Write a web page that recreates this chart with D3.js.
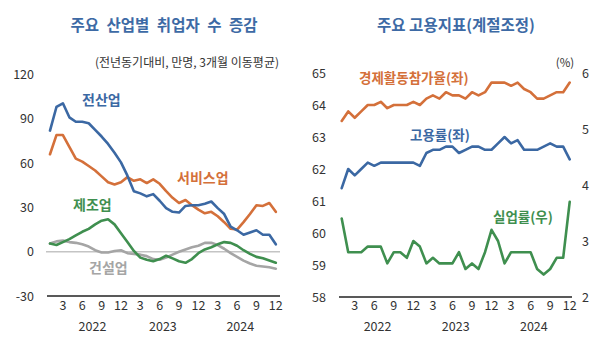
<!DOCTYPE html>
<html>
<head>
<meta charset="utf-8">
<script src="https://cdn.jsdelivr.net/npm/d3@7"></script>
<style>
  body { margin: 0; background: #fff; }
  svg { display: block; font-family: "Noto Sans CJK KR", "Noto Sans", sans-serif; }
  .tick-label { font-size: 12.5px; fill: #333; }
  .series { fill: none; stroke-width: 2.6px; stroke-linejoin: round; stroke-linecap: round; }
</style>
</head>
<body>
<svg width="600" height="337"></svg>
<script>

// months Jan 2022 .. Dec 2024 (index 0..35)
var years = ["2022", "2023", "2024"];
var monthTicks = ["3", "6", "9", "12"];

// left panel: yoy change in employed persons by industry (10k persons, 3m moving avg)
var allIndustries = [82, 98, 100.5, 91, 88, 88, 87, 82.5, 78, 73, 67, 60.5,
                     51.5, 41, 39.5, 37.5, 39, 34.5, 29.5, 27, 26.5, 31, 31.5, 31.5,
                     32.5, 34, 29.5, 25.5, 17, 14.5, 11.5, 13, 14.5, 11.5, 11.5, 5];
var services = [66, 79, 79, 71, 63, 61, 58, 55, 51, 47, 45.5, 47,
                50.5, 48, 49, 46.5, 49, 46, 41, 36.5, 33, 35, 31.5, 28.5,
                26, 27, 24, 20, 15.5, 15, 20, 25.5, 31.5, 31, 33, 27];
var manufacturing = [5.5, 4.5, 6.5, 8.5, 11, 13.5, 15.5, 18.5, 21, 22, 18.5, 12.5,
                     6.5, 0.5, -4, -5.5, -6.5, -5, -2.7, -4.5, -6.5, -7.5, -5, -1,
                     1.5, 3, 5, 6.5, 6, 4, 1, -1.5, -3.5, -4.5, -6, -7.5];
var construction = [5.5, 7, 7.5, 6.5, 6, 5, 3.5, 1, -0.5, -0.5, 0.5, 1,
                    -1, -1.5, -2, -3, -5, -5.5, -4, -2, 0, 1.5, 3, 4,
                    6, 6, 4.5, 2, -1, -3.5, -6, -8, -9.5, -10, -10.5, -11.5];
var leftTicks = [-30, 0, 30, 60, 90, 120];

// right panel: seasonally adjusted rates (%)
var participation = [63.5, 63.8, 63.6, 63.8, 64.0, 64.0, 64.1, 63.9, 64.0, 64.0, 64.0, 64.1,
                     64.0, 64.2, 64.3, 64.2, 64.4, 64.3, 64.3, 64.2, 64.4, 64.3, 64.4, 64.7,
                     64.7, 64.7, 64.6, 64.7, 64.5, 64.4, 64.2, 64.2, 64.3, 64.4, 64.4, 64.7];
var employmentRate = [61.4, 62.0, 61.8, 62.0, 62.2, 62.1, 62.2, 62.2, 62.2, 62.2, 62.2, 62.2,
                      62.1, 62.5, 62.6, 62.6, 62.7, 62.7, 62.5, 62.6, 62.7, 62.7, 62.6, 62.6,
                      62.8, 63.0, 62.8, 62.9, 62.6, 62.6, 62.6, 62.7, 62.8, 62.7, 62.7, 62.3];
var unemployment = [3.4, 2.8, 2.8, 2.8, 2.9, 2.9, 2.9, 2.6, 2.8, 2.8, 2.7, 3.0,
                    2.9, 2.6, 2.7, 2.6, 2.6, 2.6, 2.8, 2.5, 2.6, 2.5, 2.8, 3.2,
                    3.0, 2.6, 2.8, 2.8, 2.8, 2.8, 2.5, 2.4, 2.5, 2.7, 2.7, 3.7];
var rateTicksLeft = [58, 59, 60, 61, 62, 63, 64, 65];
var rateTicksRight = [2, 3, 4, 5, 6];

var colors = { blue: "#3b68a3", orange: "#d4703a", green: "#3f8f4f", gray: "#a5a5a5", title: "#3d6aa5" };

var svg = d3.select("svg");

function monthAxis(g, x, yTick, yYear, yearShift) {
  var idx = d3.range(36);
  g.selectAll(".mt").data(idx.filter(function(i) { return (i + 1) % 3 == 0; }))
    .enter().append("text")
      .attr("class", "tick-label")
      .attr("text-anchor", "middle")
      .attr("x", function(i) { return x(i); })
      .attr("y", yTick)
      .text(function(i) { return monthTicks[((i + 1) / 3 - 1) % 4]; });
  g.selectAll(".yr").data(years)
    .enter().append("text")
      .attr("class", "tick-label")
      .attr("text-anchor", "middle")
      .attr("x", function(d, k) { return x(k * 12 + 5.5) + (k == 0 ? yearShift : 0); })
      .attr("y", yYear)
      .text(function(d) { return d; });
}

function label(x, y, text, color, size, anchor) {
  return svg.append("text")
    .attr("x", x).attr("y", y)
    .attr("text-anchor", anchor || "start")
    .attr("fill", color)
    .attr("font-size", size)
    .attr("font-weight", "bold")
    .text(text);
}

// ---------- left panel ----------
var xL = d3.scaleLinear().domain([0, 35]).range([50, 275.8]);
var yL = d3.scaleLinear().domain([-30, 120]).range([296, 74.5]);
var left = svg.append("g");

left.append("line")
  .attr("x1", 46).attr("x2", 280).attr("y1", yL(0)).attr("y2", yL(0))
  .attr("stroke", "#c4c4c4").attr("stroke-width", 1.5);
left.append("line")
  .attr("x1", 47).attr("x2", 280).attr("y1", yL(-30)).attr("y2", yL(-30))
  .attr("stroke", "#222").attr("stroke-width", 1.5);

left.selectAll(".yt").data(leftTicks).enter().append("text")
  .attr("class", "tick-label")
  .attr("text-anchor", "end")
  .attr("x", 34)
  .attr("y", function(d) { return yL(d) + 4.5; })
  .text(function(d) { return d; });

monthAxis(left, xL, 310, 331, 7);

var lineL = d3.line().x(function(d, i) { return xL(i); }).y(function(d) { return yL(d); });
[[construction, colors.gray], [manufacturing, colors.green], [services, colors.orange], [allIndustries, colors.blue]]
  .forEach(function(s) {
    left.append("path").datum(s[0]).attr("class", "series").attr("stroke", s[1]).attr("d", lineL);
  });

label(164, 31, "주요 산업별 취업자 수 증감", colors.title, 15.5, "middle")
  .attr("word-spacing", 4);
svg.append("text").attr("x", 279).attr("y", 67).attr("text-anchor", "end")
  .attr("font-size", 12).attr("fill", "#333").text("(전년동기대비, 만명, 3개월 이동평균)");
label(82, 105, "전산업", colors.blue, 14);
label(177, 183, "서비스업", colors.orange, 14);
label(73, 210, "제조업", colors.green, 14);
label(89, 273, "건설업", colors.gray, 14);

// ---------- right panel ----------
var xR = d3.scaleLinear().domain([0, 35]).range([341.7, 569.7]);
var yR = d3.scaleLinear().domain([58, 65]).range([297, 73]);
var yU = d3.scaleLinear().domain([2, 6]).range([297, 73]);
var right = svg.append("g");

right.append("line")
  .attr("x1", 339).attr("x2", 572).attr("y1", yR(58)).attr("y2", yR(58))
  .attr("stroke", "#222").attr("stroke-width", 1.5);

right.selectAll(".yl").data(rateTicksLeft).enter().append("text")
  .attr("class", "tick-label")
  .attr("text-anchor", "end")
  .attr("x", 326)
  .attr("y", function(d) { return yR(d) + 4.5; })
  .text(function(d) { return d; });
right.selectAll(".yr2").data(rateTicksRight).enter().append("text")
  .attr("class", "tick-label")
  .attr("text-anchor", "start")
  .attr("x", 582)
  .attr("y", function(d) { return yU(d) + 4.5; })
  .text(function(d) { return d; });

monthAxis(right, xR, 310, 331, 0);

var lineR = d3.line().x(function(d, i) { return xR(i); }).y(function(d) { return yR(d); });
var lineU = d3.line().x(function(d, i) { return xR(i); }).y(function(d) { return yU(d); });
right.append("path").datum(unemployment).attr("class", "series").attr("stroke", colors.green).attr("d", lineU);
right.append("path").datum(employmentRate).attr("class", "series").attr("stroke", colors.blue).attr("d", lineR);
right.append("path").datum(participation).attr("class", "series").attr("stroke", colors.orange).attr("d", lineR);

label(456, 31, "주요 고용지표(계절조정)", colors.title, 15.5, "middle");
svg.append("text").attr("x", 565).attr("y", 67).attr("text-anchor", "middle")
  .attr("font-size", 11.5).attr("fill", "#333").text("(%)");
label(359, 83, "경제활동참가율(좌)", colors.orange, 13.5);
label(410, 140, "고용률(좌)", colors.blue, 13.5);
label(493, 222, "실업률(우)", colors.green, 13.5);

</script>
</body>
</html>
